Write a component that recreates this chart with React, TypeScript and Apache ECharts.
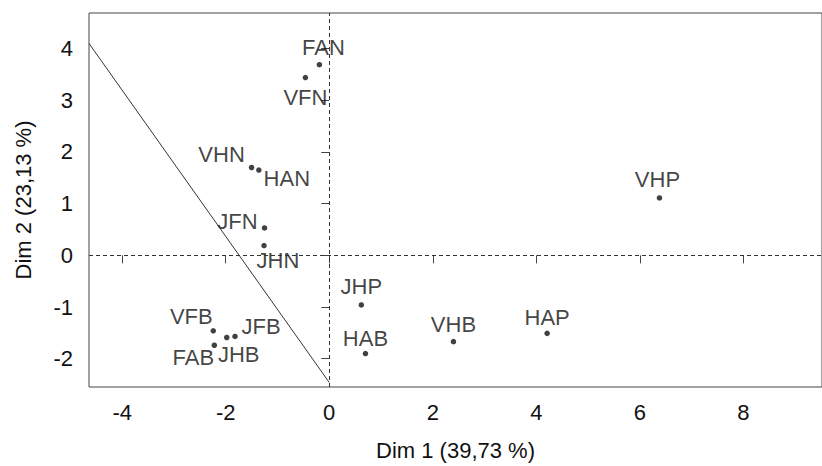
import React, { useEffect, useRef } from "react";
import * as echarts from "echarts";

const names = ["FAN", "VFN", "VHN", "HAN", "JFN", "JHN", "VFB", "FAB", "JHB", "JFB", "JHP", "HAB", "VHB", "HAP", "VHP"];
const dim1 = [-0.19, -0.46, -1.5, -1.36, -1.25, -1.26, -2.24, -2.22, -1.98, -1.82, 0.62, 0.7, 2.4, 4.21, 6.38];
const dim2 = [3.69, 3.44, 1.7, 1.65, 0.53, 0.19, -1.46, -1.74, -1.59, -1.57, -0.96, -1.9, -1.67, -1.51, 1.11];
const xTicks = [-4, -2, 0, 2, 4, 6, 8];
const yTicks = [-2, -1, 0, 1, 2, 3, 4];
const boundaryX = [-4.64, 0];
const boundaryY = [4.1, -2.46];
const xTitle = "Dim 1 (39,73 %)";
const yTitle = "Dim 2 (23,13 %)";

// label placement (pixel offsets from each point)
const labelOffsets: Record<string, [number, number]> = {
  FAN: [4, -17], VFN: [0, 20], VHN: [-30, -13], HAN: [28, 8], JFN: [-27, -6],
  JHN: [14, 15], VFB: [-22, -14], FAB: [-21, 12], JHB: [12, 17], JFB: [26, -10],
  JHP: [0, -18], HAB: [0, -15], VHB: [0, -17], HAP: [0, -16], VHP: [-2, -18],
};

const FONT = "'Liberation Sans', Arial, Helvetica, sans-serif";
const TXT = "#111";

export default function App() {
  const ref = useRef<HTMLDivElement>(null);
  useEffect(() => {
    document.body.style.margin = "0";
    const chart = echarts.init(ref.current!, undefined, { renderer: "svg" });
    const points = names.map((n, i) => ({
      value: [dim1[i], dim2[i]],
      name: n,
      label: { offset: labelOffsets[n] },
    }));
    chart.setOption({
      animation: false,
      textStyle: { fontFamily: FONT },
      grid: {
        left: 89, top: 13, width: 740, height: 378,
        show: true, borderColor: "#444", borderWidth: 1, backgroundColor: "transparent",
      },
      xAxis: {
        type: "value", min: -4.641, max: 9.52,
        name: xTitle, nameLocation: "middle", nameGap: 52,
        nameTextStyle: { fontSize: 22, color: TXT, fontFamily: FONT },
        axisLine: { show: false },
        splitLine: { show: false },
        axisTick: { show: true, length: 8, customValues: xTicks, lineStyle: { color: "#444" } },
        axisLabel: { customValues: xTicks, fontSize: 22, color: TXT, margin: 14, fontFamily: FONT },
      },
      yAxis: {
        type: "value", min: -2.548, max: 4.69,
        name: yTitle, nameLocation: "middle", nameGap: 55,
        nameTextStyle: { fontSize: 22, color: TXT, fontFamily: FONT },
        axisLine: { show: false },
        splitLine: { show: false },
        axisTick: { show: true, length: 8, customValues: yTicks, lineStyle: { color: "#444" } },
        axisLabel: { customValues: yTicks, fontSize: 22, color: TXT, margin: 16, fontFamily: FONT },
      },
      series: [
        {
          type: "line",
          data: boundaryX.map((x, i) => [x, boundaryY[i]]),
          symbol: "none",
          lineStyle: { color: "#333", width: 1 },
          silent: true,
          z: 1,
        },
        {
          type: "scatter",
          data: points,
          symbol: "circle",
          symbolSize: 5.5,
          itemStyle: { color: "#111" },
          label: {
            show: true,
            position: "inside",
            formatter: "{b}",
            fontSize: 22,
            color: TXT,
            fontFamily: FONT,
            align: "center",
            verticalAlign: "middle",
          },
          markLine: {
            silent: true,
            symbol: "none",
            label: { show: false },
            lineStyle: { type: [4, 3], color: "#333", width: 1 },
            data: [{ xAxis: 0 }, { yAxis: 0 }],
          },
          z: 3,
        },
      ],
    });
    return () => chart.dispose();
  }, []);
  return <div ref={ref} style={{ width: 822, height: 466 }} />;
}
